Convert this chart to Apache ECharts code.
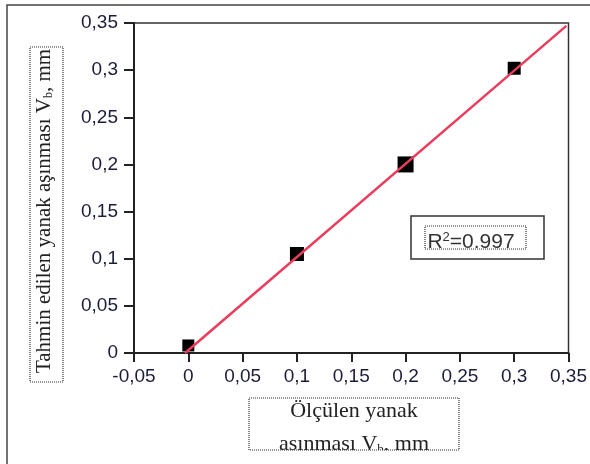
<!DOCTYPE html>
<html><head><meta charset="utf-8">
<script src="https://cdn.jsdelivr.net/npm/echarts@6/dist/echarts.min.js"></script>
<style>html,body{margin:0;padding:0;background:#fff}#c{width:590px;height:464px}</style>
</head><body><div id="c"></div>
<script>
// Data
const measuredX = [0, 0.1, 0.2, 0.3];
const predictedY = [0.008, 0.105, 0.2, 0.302];
const markerSizes = [12, 14, 16, 13];
const trendX = [-0.003, 0.348];
const trendY = [0, 0.347];
const xTitleLines = ['Ölçülen yanak', 'asınması V{s|b}, mm'];
const yTitle = 'Tahmin edilen yanak aşınması V{s|b}, mm';
const r2Text = 'R{sup|2}=0.997';

const fmt = v => { const s = String(+v.toFixed(2)); return s.replace('.', ','); };
const labelColor = '#1c1c3a';

const chart = echarts.init(document.getElementById('c'), null, {renderer: 'canvas'});
chart.setOption({
  animation: false,
  backgroundColor: '#fff',
  grid: {left: 134, right: 18, top: 23, bottom: 111, show: true, borderColor: '#333', borderWidth: 1.5, backgroundColor: 'transparent'},
  xAxis: {
    type: 'value', min: -0.05, max: 0.35, interval: 0.05,
    axisLine: {onZero: false, lineStyle: {color: '#222', width: 2}},
    axisTick: {show: true, length: 9, lineStyle: {color: '#222', width: 2}},
    axisLabel: {margin: 14, formatter: fmt, color: labelColor, fontFamily: 'Liberation Sans', fontSize: 19},
    splitLine: {show: false}
  },
  yAxis: {
    type: 'value', min: 0, max: 0.35, interval: 0.05,
    axisLine: {show: true, onZero: false, lineStyle: {color: '#222', width: 2}},
    axisTick: {show: true, length: 10, lineStyle: {color: '#222', width: 2}},
    axisLabel: {margin: 16, formatter: fmt, color: labelColor, fontFamily: 'Liberation Sans', fontSize: 19},
    splitLine: {show: false}
  },
  series: [
    {
      type: 'scatter', symbol: 'rect',
      data: measuredX.map((x, i) => ({value: [x, predictedY[i]], symbolSize: markerSizes[i]})),
      itemStyle: {color: '#000', opacity: 1}, z: 2
    },
    {
      type: 'line', showSymbol: false, symbol: 'none',
      data: trendX.map((x, i) => [x, trendY[i]]),
      lineStyle: {color: '#ea3d5c', width: 2.5}, z: 3
    }
  ],
  graphic: [
    // outer frame
    {type: 'rect', shape: {x: 7, y: 5, width: 600, height: 500}, style: {fill: 'none', stroke: '#444', lineWidth: 1.5}, silent: true},
    // y title box (dotted)
    {type: 'rect', shape: {x: 30, y: 47, width: 33, height: 335}, style: {fill: 'none', stroke: '#333', lineWidth: 1.2, lineDash: [1, 1]}, silent: true},
    {
      type: 'text', x: 44, y: 211, rotation: Math.PI / 2,
      style: {
        text: yTitle, fill: '#222', fontFamily: 'Liberation Serif', fontSize: 21,
        align: 'center', verticalAlign: 'middle',
        rich: {s: {fontSize: 12, fontFamily: 'Liberation Serif', fill: '#222', padding: [10, 0, 0, 0]}}
      }
    },
    // x title
    {
      type: 'text', x: 354, y: 411,
      style: {text: xTitleLines[0], fill: '#222', fontFamily: 'Liberation Serif', fontSize: 22, align: 'center', verticalAlign: 'middle'}
    },
    {
      type: 'text', x: 354, y: 444,
      style: {
        text: xTitleLines[1], fill: '#222', fontFamily: 'Liberation Serif', fontSize: 22, align: 'center', verticalAlign: 'middle',
        rich: {s: {fontSize: 13, fontFamily: 'Liberation Serif', fill: '#222', padding: [12, 0, 0, 0]}}
      }
    },
    {type: 'rect', shape: {x: 249, y: 450, width: 211, height: 14}, style: {fill: '#fff'}, z: 100, silent: true},
    {type: 'rect', shape: {x: 249, y: 398, width: 210, height: 52}, style: {fill: 'none', stroke: '#333', lineWidth: 1.2, lineDash: [1, 1]}, z: 101, silent: true},
    // R2 box
    {type: 'rect', shape: {x: 411, y: 216, width: 133, height: 43}, style: {fill: '#fff', stroke: '#333', lineWidth: 1.5}, z: 50, silent: true},
    {
      type: 'text', x: 471, y: 242, z: 51,
      style: {
        text: r2Text, fill: '#333', fontFamily: 'Liberation Sans', fontSize: 21, align: 'center', verticalAlign: 'middle',
        rich: {sup: {fontSize: 13, fontFamily: 'Liberation Sans', fill: '#333', padding: [0, 0, 10, 0]}}
      }
    },
    {type: 'rect', shape: {x: 425, y: 249, width: 100, height: 8}, style: {fill: '#fff'}, z: 52, silent: true},
    {type: 'rect', shape: {x: 425, y: 226, width: 101, height: 23}, style: {fill: 'none', stroke: '#333', lineWidth: 1.2, lineDash: [1, 1]}, z: 53, silent: true}
  ]
});
</script></body></html>
